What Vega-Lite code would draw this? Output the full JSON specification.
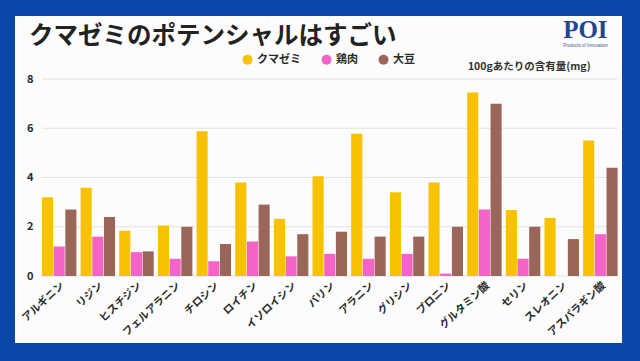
{
  "$schema": "https://vega.github.io/schema/vega-lite/v6.json",
  "width": 607,
  "height": 327,
  "autosize": {"type": "none"},
  "padding": {"left": 15, "top": 16, "right": 18, "bottom": 18},
  "background": "#0b47a8",
  "config": {
    "view": {"fill": "#fbfcfb", "stroke": null},
    "font": "Noto Sans CJK JP"
  },
  "title": {
    "text": "クマゼミのポテンシャルはすごい",
    "anchor": "start",
    "frame": "group",
    "orient": "top",
    "baseline": "alphabetic",
    "offset": -52,
    "dx": 14,
    "fontSize": 24.5,
    "fontWeight": "bold",
    "color": "#222222",
    "font": "Noto Sans CJK JP"
  },
  "datasets": {
    "amino": [
      {"amino": "アルギニン", "food": "クマゼミ", "value": 3.2},
      {"amino": "アルギニン", "food": "鶏肉", "value": 1.2},
      {"amino": "アルギニン", "food": "大豆", "value": 2.7},
      {"amino": "リジン", "food": "クマゼミ", "value": 3.58},
      {"amino": "リジン", "food": "鶏肉", "value": 1.6},
      {"amino": "リジン", "food": "大豆", "value": 2.4},
      {"amino": "ヒスチジン", "food": "クマゼミ", "value": 1.84},
      {"amino": "ヒスチジン", "food": "鶏肉", "value": 0.97},
      {"amino": "ヒスチジン", "food": "大豆", "value": 1.0},
      {"amino": "フェルアラニン", "food": "クマゼミ", "value": 2.05},
      {"amino": "フェルアラニン", "food": "鶏肉", "value": 0.7},
      {"amino": "フェルアラニン", "food": "大豆", "value": 2.0},
      {"amino": "チロシン", "food": "クマゼミ", "value": 5.88},
      {"amino": "チロシン", "food": "鶏肉", "value": 0.6},
      {"amino": "チロシン", "food": "大豆", "value": 1.3},
      {"amino": "ロイチン", "food": "クマゼミ", "value": 3.8},
      {"amino": "ロイチン", "food": "鶏肉", "value": 1.4},
      {"amino": "ロイチン", "food": "大豆", "value": 2.9},
      {"amino": "イソロイシン", "food": "クマゼミ", "value": 2.32},
      {"amino": "イソロイシン", "food": "鶏肉", "value": 0.8},
      {"amino": "イソロイシン", "food": "大豆", "value": 1.7},
      {"amino": "バリン", "food": "クマゼミ", "value": 4.05},
      {"amino": "バリン", "food": "鶏肉", "value": 0.9},
      {"amino": "バリン", "food": "大豆", "value": 1.8},
      {"amino": "アラニン", "food": "クマゼミ", "value": 5.78},
      {"amino": "アラニン", "food": "鶏肉", "value": 0.7},
      {"amino": "アラニン", "food": "大豆", "value": 1.6},
      {"amino": "グリシン", "food": "クマゼミ", "value": 3.4},
      {"amino": "グリシン", "food": "鶏肉", "value": 0.9},
      {"amino": "グリシン", "food": "大豆", "value": 1.6},
      {"amino": "プロニン", "food": "クマゼミ", "value": 3.8},
      {"amino": "プロニン", "food": "鶏肉", "value": 0.1},
      {"amino": "プロニン", "food": "大豆", "value": 2.0},
      {"amino": "グルタミン酸", "food": "クマゼミ", "value": 7.45},
      {"amino": "グルタミン酸", "food": "鶏肉", "value": 2.7},
      {"amino": "グルタミン酸", "food": "大豆", "value": 7.0},
      {"amino": "セリン", "food": "クマゼミ", "value": 2.68},
      {"amino": "セリン", "food": "鶏肉", "value": 0.7},
      {"amino": "セリン", "food": "大豆", "value": 2.0},
      {"amino": "スレオニン", "food": "クマゼミ", "value": 2.36},
      {"amino": "スレオニン", "food": "鶏肉", "value": 0},
      {"amino": "スレオニン", "food": "大豆", "value": 1.5},
      {"amino": "アスパラギン酸", "food": "クマゼミ", "value": 5.5},
      {"amino": "アスパラギン酸", "food": "鶏肉", "value": 1.7},
      {"amino": "アスパラギン酸", "food": "大豆", "value": 4.4}
    ],
    "grid": [{"g": 0}, {"g": 2}, {"g": 4}, {"g": 6}, {"g": 8}],
    "notes": [
      {"label": "100gあたりの含有量(mg)", "kind": "unit"}
    ]
  },
  "encoding": {
    "x": {
      "field": "amino",
      "type": "nominal",
      "sort": null,
      "scale": {
        "domain": ["アルギニン", "リジン", "ヒスチジン", "フェルアラニン", "チロシン", "ロイチン", "イソロイシン", "バリン", "アラニン", "グリシン", "プロニン", "グルタミン酸", "セリン", "スレオニン", "アスパラギン酸"],
        "paddingInner": 0.108,
        "paddingOuter": 0.405,
        "align": 0.86
      },
      "axis": {
        "orient": "bottom",
        "offset": -67,
        "title": null,
        "domain": false,
        "ticks": false,
        "labelAngle": -43,
        "labelAlign": "right",
        "labelBaseline": "top",
        "labelPadding": 4,
        "labelFontSize": 10.5,
        "labelFontWeight": "bold",
        "labelColor": "#2a2a2a",
        "labelFont": "Noto Sans CJK JP"
      }
    }
  },
  "layer": [
    {
      "data": {"name": "grid"},
      "mark": {"type": "rule", "color": "#e1e4e4", "strokeWidth": 1},
      "encoding": {
        "x": {"datum": "アルギニン", "type": "nominal", "bandPosition": 0},
        "x2": {"datum": "アスパラギン酸", "bandPosition": 1},
        "y": {"field": "g", "type": "quantitative"}
      }
    },
    {
      "data": {"name": "amino"},
      "mark": {"type": "bar"},
      "encoding": {
        "xOffset": {
          "field": "food",
          "type": "nominal",
          "sort": ["クマゼミ", "鶏肉", "大豆"],
          "scale": {"paddingInner": 0.05}
        },
        "y": {
          "field": "value",
          "type": "quantitative",
          "scale": {"domain": [-2.72, 10.56], "nice": false, "zero": false},
          "axis": {
            "orient": "left",
            "offset": -22,
            "values": [0, 2, 4, 6, 8],
            "title": null,
            "domain": false,
            "ticks": false,
            "grid": false,
            "labelPadding": 4,
            "labelFontSize": 11,
            "labelFontWeight": "bold",
            "labelColor": "#2a2a2a",
            "labelFont": "Noto Sans CJK JP"
          }
        },
        "y2": {"datum": 0},
        "color": {
          "field": "food",
          "type": "nominal",
          "scale": {
            "domain": ["クマゼミ", "鶏肉", "大豆"],
            "range": ["#f8c200", "#f463c6", "#9a6659"]
          },
          "legend": {
            "orient": "none",
            "legendX": 227,
            "legendY": 38,
            "direction": "horizontal",
            "title": null,
            "symbolType": "circle",
            "symbolSize": 100,
            "symbolStrokeWidth": 0,
            "labelFontSize": 11,
            "labelFontWeight": "bold",
            "labelColor": "#2a2a2a",
            "labelFont": "Noto Sans CJK JP",
            "labelOffset": 4,
            "columnPadding": 20
          }
        }
      }
    },
    {
      "data": {"name": "notes"},
      "mark": {
        "type": "text",
        "align": "right",
        "baseline": "middle",
        "dx": -27,
        "fontSize": 10.5,
        "fontWeight": "bold",
        "color": "#333333",
        "font": "Noto Sans CJK JP"
      },
      "encoding": {
        "x": {"datum": "アスパラギン酸", "type": "nominal", "bandPosition": 1},
        "y": {"datum": 8.5, "type": "quantitative"},
        "text": {"field": "label"}
      }
    },
    {
      "data": {"values": [{"logo": "POI"}]},
      "mark": {
        "type": "text",
        "align": "center",
        "baseline": "middle",
        "dx": -15,
        "fontSize": 25,
        "fontWeight": "bold",
        "color": "#1f4594",
        "font": "Liberation Serif"
      },
      "encoding": {
        "x": {"datum": "アスパラギン酸", "type": "nominal"},
        "y": {"datum": 10.0, "type": "quantitative"},
        "text": {"field": "logo"}
      }
    },
    {
      "data": {"values": [{"tag": "Products of Innovation"}]},
      "mark": {
        "type": "text",
        "align": "center",
        "baseline": "middle",
        "dx": -15,
        "fontSize": 4.5,
        "color": "#4a5a8a",
        "font": "Liberation Sans"
      },
      "encoding": {
        "x": {"datum": "アスパラギン酸", "type": "nominal"},
        "y": {"datum": 9.35, "type": "quantitative"},
        "text": {"field": "tag"}
      }
    }
  ]
}
